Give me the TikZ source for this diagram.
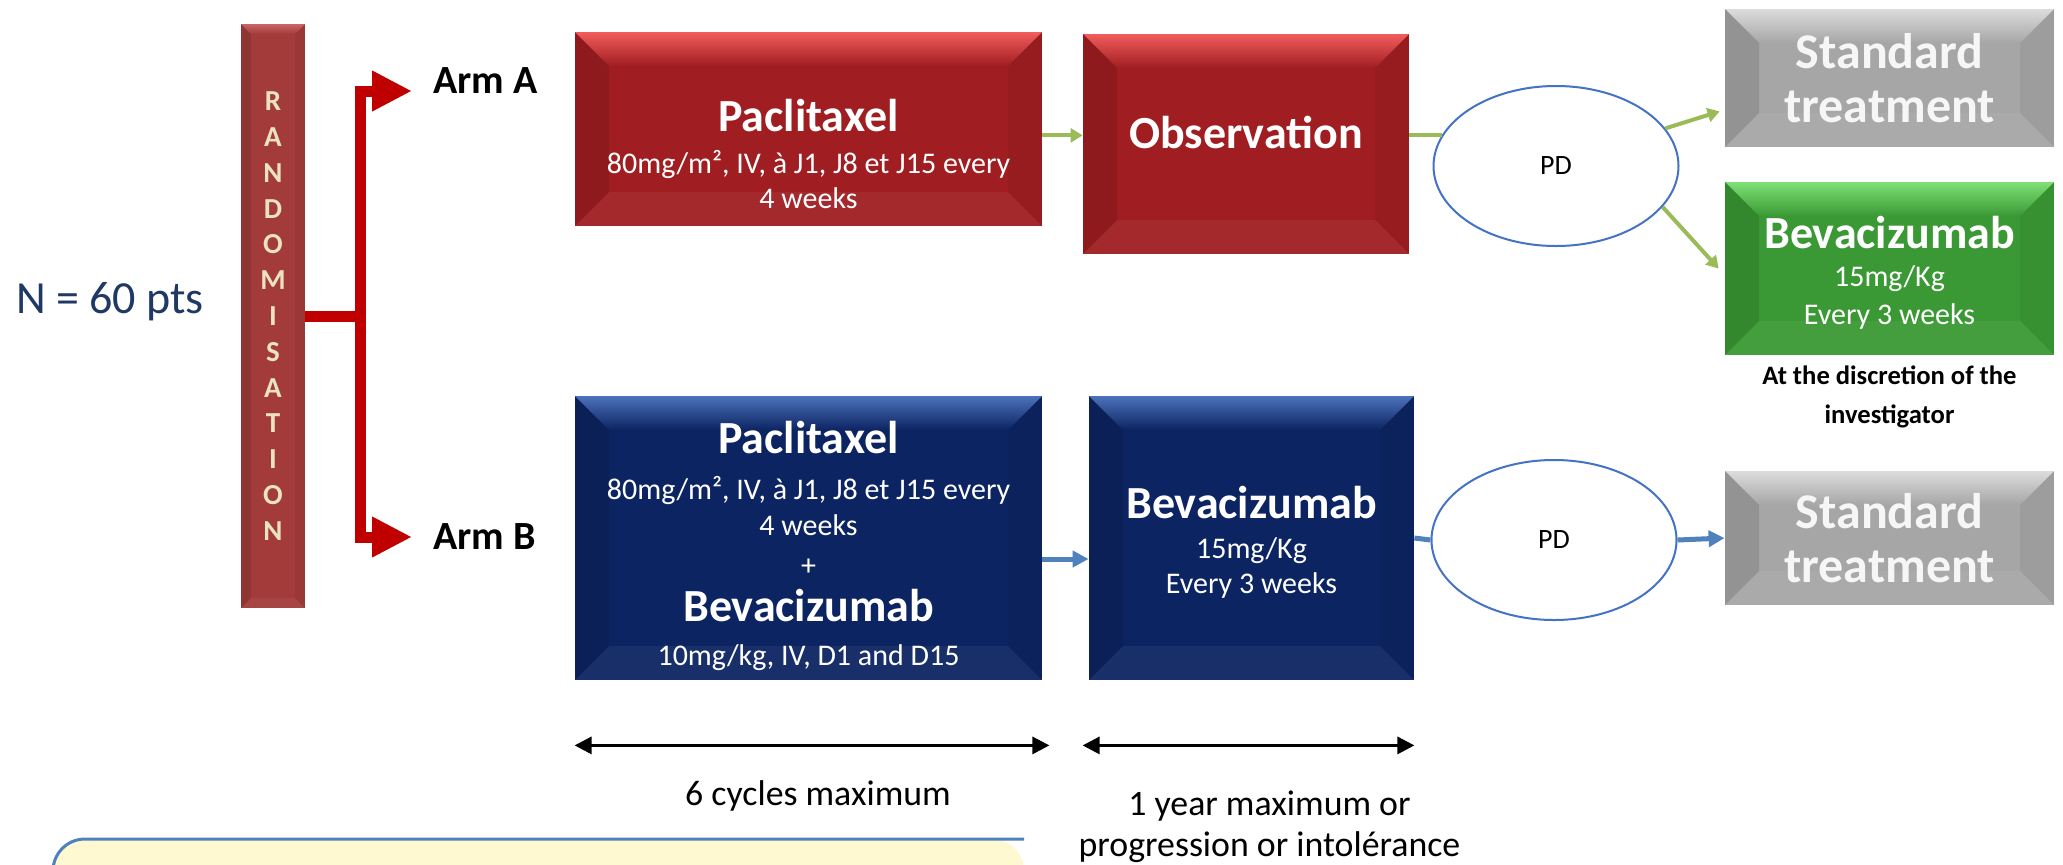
\documentclass[tikz,border=0pt]{standalone}
\usepackage{fontspec}
\setmainfont{Carlito}
\usetikzlibrary{arrows.meta,positioning,shapes.geometric}

\definecolor{boxred}{HTML}{A01E21}
\definecolor{boxredlt}{HTML}{F25C5C}
\definecolor{boxblue}{HTML}{0C2461}
\definecolor{boxbluelt}{HTML}{4C72BC}
\definecolor{boxgreen}{HTML}{3A9934}
\definecolor{boxgreenlt}{HTML}{7FE077}
\definecolor{boxgrey}{HTML}{A6A6A6}
\definecolor{boxgreylt}{HTML}{DCDCDC}
\definecolor{randbar}{HTML}{A33B3B}
\definecolor{randbarlt}{HTML}{C96565}
\definecolor{randtext}{HTML}{EAE3C2}
\definecolor{armline}{HTML}{C00000}
\definecolor{greenarr}{HTML}{9BBB59}
\definecolor{bluearr}{HTML}{4F81BD}
\definecolor{pdline}{HTML}{4472C4}
\definecolor{ntext}{HTML}{1F3864}
\definecolor{stdtext}{HTML}{F6F6F6}
\definecolor{notefill}{HTML}{FFF9D2}

\newcommand\drugname[1]{{\fontsize{23}{26}\selectfont\bfseries #1}}

\begin{document}
\begin{tikzpicture}[x=0.5pt, y=-0.5pt,
  bevel size/.store in=\bevsz, bevel size=17pt,
  bevel/.style 2 args={fill=#2, path picture={
    \path (path picture bounding box.north west) coordinate (bnw)
          (path picture bounding box.north east) coordinate (bne)
          (path picture bounding box.south west) coordinate (bsw)
          (path picture bounding box.south east) coordinate (bse);
    \shade[top color=#1, bottom color=#2] (bnw) -- (bne) -- ([shift={(-\bevsz,-\bevsz)}]bne) -- ([shift={(\bevsz,-\bevsz)}]bnw) -- cycle;
    \fill[black, opacity=.11] (bnw) -- ([shift={(\bevsz,-\bevsz)}]bnw) -- ([shift={(\bevsz,\bevsz)}]bsw) -- (bsw) -- cycle;
    \fill[black, opacity=.05] (bne) -- ([shift={(-\bevsz,-\bevsz)}]bne) -- ([shift={(-\bevsz,\bevsz)}]bse) -- (bse) -- cycle;
    \fill[white, opacity=.05] (bsw) -- ([shift={(\bevsz,\bevsz)}]bsw) -- ([shift={(-\bevsz,\bevsz)}]bse) -- (bse) -- cycle;
  }},
  drugbox/.style={inner sep=0pt, text=white, align=center, font=\fontsize{15}{17.5}\selectfont},
  boxtext/.style={inner sep=0pt, text=white, align=center, font=\fontsize{15}{17.5}\selectfont},
  redbox/.style={drugbox, bevel={boxredlt}{boxred}},
  bluebox/.style={drugbox, bevel={boxbluelt}{boxblue}},
  greenbox/.style={drugbox, bevel={boxgreenlt}{boxgreen}},
  greybox/.style={drugbox, bevel={boxgreylt}{boxgrey}, text=stdtext, font=\fontsize{25}{27}\selectfont\bfseries},
  pdnode/.style={ellipse, draw=pdline, line width=1pt, fill=white, inner sep=0pt,
                 minimum width=122.5pt, minimum height=80pt, font=\fontsize{14}{16}\selectfont},
  armlabel/.style={anchor=west, inner sep=0pt, font=\fontsize{20}{24}\selectfont\bfseries},
  redline/.style={draw=armline, line width=5.5pt},
  greenline/.style={draw=greenarr, line width=2pt},
  greenarrow/.style={greenline, -{Triangle[length=6pt,width=7pt]}},
  blueline/.style={draw=bluearr, line width=2.5pt},
  bluearrow/.style={blueline, -{Triangle[length=8pt,width=8pt]}},
  spanarrow/.style={line width=1.5pt, {Triangle[length=8.5pt,width=8.5pt]}-{Triangle[length=8.5pt,width=8.5pt]}},
  spanlabel/.style={inner sep=0pt, align=center, font=\fontsize{17.9}{20.5}\selectfont}
]
\useasboundingbox (0,0) rectangle (2063,864);

\node[text=ntext, anchor=base, inner sep=0pt, font=\fontsize{23}{27}\selectfont] (npts) at (110,313) {N = 60 pts};

\node[drugbox, bevel={randbarlt}{randbar}, bevel size=5pt, minimum width=32pt, minimum height=292pt,
      text=randtext, font=\fontsize{14.5}{17.9}\selectfont\bfseries] (rand) at (273,316)
      {R\\A\\N\\D\\O\\M\\I\\S\\A\\T\\I\\O\\N};
\coordinate[right=27.5pt of rand] (split);

\node[armlabel] (armA) at (433,81) {Arm A};
\node[armlabel] (armB) at (433,537) {Arm B};
\draw[redline] (rand.east) -- (split);
\draw[redline, -{Triangle[length=20pt,width=19pt]}] (split) |- ([xshift=-10.5pt,yshift=-5pt]armA.west);
\draw[redline, -{Triangle[length=20pt,width=19pt]}] (split) |- ([xshift=-10.5pt]armB.west);

\node[redbox, minimum width=233.5pt, minimum height=97pt] (pacA) at (808.5,129) {};
\node[boxtext] (pacAtxt) at ([yshift=-12.5pt]pacA.center)
  {\drugname{Paclitaxel}\\[3.5pt]80mg/m², IV, à J1, J8 et J15 every\\4 weeks};
\node[redbox, minimum width=163pt, minimum height=110pt] (obs) at (1246,144) {};
\node[boxtext] (obstxt) at ([yshift=6pt]obs.center) {\drugname{Observation}};

\node[pdnode] (pdA) at (1556,166) {PD};
\node[greybox, minimum width=164.5pt, minimum height=69pt] (stdA) at (1889.5,78) {Standard\\treatment};
\node[greenbox, minimum width=164.5pt, minimum height=86.5pt] (bevG) at (1889.5,268.5) {};
\node[boxtext, font=\fontsize{15}{19}\selectfont] (bevGtxt) at ([yshift=-2.3pt]bevG.center)
  {\drugname{Bevacizumab}\\[0pt]15mg/Kg\\Every 3 weeks};
\node[below=5pt of bevG, inner sep=0pt, align=center, font=\fontsize{13.3}{19.5}\selectfont\bfseries] (discr)
  {At the discretion of the\\investigator};

\node[bluebox, minimum width=233.5pt, minimum height=142pt] (pacB) at (808.5,538) {};
\node[boxtext, font=\fontsize{15}{18}\selectfont] (pacBtxt) at ([yshift=-4pt]pacB.center)
  {\drugname{Paclitaxel}\\[5pt]80mg/m², IV, à J1, J8 et J15 every\\4 weeks\\[2pt]+\\[5pt]\drugname{Bevacizumab}\\[4pt]10mg/kg, IV, D1 and D15};
\node[bluebox, minimum width=162.5pt, minimum height=142pt] (bevB) at (1251.5,538) {};
\node[boxtext] (bevBtxt) at ([yshift=-2pt]bevB.center)
  {\drugname{Bevacizumab}\\[2.7pt]15mg/Kg\\Every 3 weeks};
\node[pdnode] (pdB) at (1554,540) {PD};
\node[greybox, minimum width=164.5pt, minimum height=67pt] (stdB) at (1889.5,538) {Standard\\treatment};

\draw[greenarrow] (pacA.east |- pdA.165) -- (obs.west |- pdA.165);
\draw[greenline] (obs.east |- pdA.165) -- (pdA.165);
\draw[greenarrow] (pdA.19) -- ([xshift=-2.5pt,yshift=18pt]stdA.south west);
\draw[greenarrow] (pdA.-21) -- ([xshift=-3pt]bevG.west);

\draw[bluearrow] ([yshift=-10.5pt]pacB.east) -- ([yshift=-10.5pt]bevB.west);
\draw[blueline] (bevB.east) -- (pdB.west);
\draw[bluearrow] (pdB.east) -- (stdB.west);

\coordinate (cycL) at ([yshift=-32.5pt]pacB.south west);
\coordinate (cycR) at ([xshift=3.5pt,yshift=-32.5pt]pacB.south east);
\coordinate (yrL) at ([xshift=-3pt,yshift=-32.5pt]bevB.south west);
\coordinate (yrR) at ([yshift=-32.5pt]bevB.south east);
\draw[spanarrow] (cycL) -- (cycR) node[spanlabel, midway, xshift=3pt, yshift=-25.5pt] (cyc) {6 cycles maximum};
\draw[spanarrow] (yrL) -- (yrR) node[spanlabel, midway, xshift=10.5pt, yshift=-40.5pt] (yr) {1 year maximum or\\progression or intolérance};

\fill[notefill] (53,880) [rounded corners=16pt] |- (1024,839) [sharp corners] -- (1024,880) -- cycle;
\draw[draw=bluearr, line width=1.5pt] (53,880) [rounded corners=16pt] |- (1024,839);
\end{tikzpicture}
\end{document}
